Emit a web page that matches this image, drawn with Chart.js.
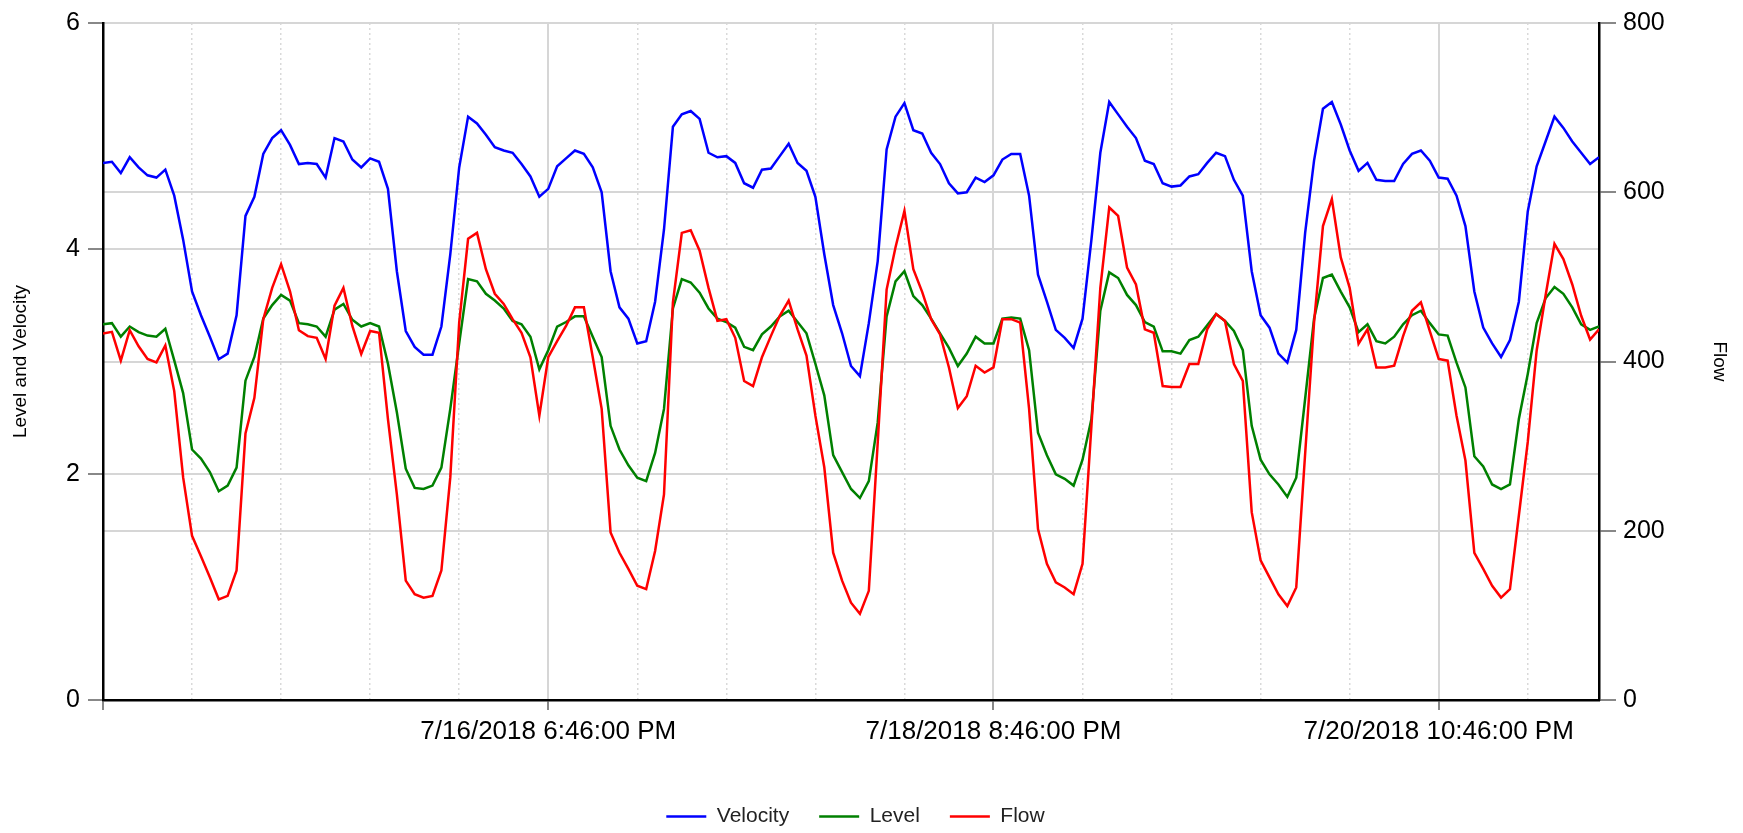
<!DOCTYPE html>
<html>
<head>
<meta charset="utf-8">
<script src="https://cdn.jsdelivr.net/npm/chart.js@4"></script>
<style>
  html, body { margin: 0; padding: 0; background: #fff; }
  #wrap { width: 1743px; height: 833px; }
</style>
</head>
<body>
<div id="wrap"><canvas id="chart"></canvas></div>
<script>
// Hourly readings starting 7/14/2018 4:46:00 PM (hour 0) through hour 168.
const startTime = new Date(2018, 6, 14, 16, 46, 0);

const hours = [
  0, 1, 2, 3, 4, 5, 6, 7, 8, 9, 10, 11, 12, 13, 14, 15, 16, 17, 18, 19,
  20, 21, 22, 23, 24, 25, 26, 27, 28, 29, 30, 31, 32, 33, 34, 35, 36, 37, 38, 39,
  40, 41, 42, 43, 44, 45, 46, 47, 48, 49, 50, 51, 52, 53, 54, 55, 56, 57, 58, 59,
  60, 61, 62, 63, 64, 65, 66, 67, 68, 69, 70, 71, 72, 73, 74, 75, 76, 77, 78, 79,
  80, 81, 82, 83, 84, 85, 86, 87, 88, 89, 90, 91, 92, 93, 94, 95, 96, 97, 98, 99,
  100, 101, 102, 103, 104, 105, 106, 107, 108, 109, 110, 111, 112, 113, 114, 115, 116, 117, 118, 119,
  120, 121, 122, 123, 124, 125, 126, 127, 128, 129, 130, 131, 132, 133, 134, 135, 136, 137, 138, 139,
  140, 141, 142, 143, 144, 145, 146, 147, 148, 149, 150, 151, 152, 153, 154, 155, 156, 157, 158, 159,
  160, 161, 162, 163, 164, 165, 166, 167, 168
];

const velocity = [
  4.76, 4.77, 4.67, 4.81, 4.72, 4.65, 4.63, 4.70, 4.47, 4.08,
  3.62, 3.41, 3.22, 3.02, 3.07, 3.41, 4.29, 4.46, 4.84, 4.98,
  5.05, 4.92, 4.75, 4.76, 4.75, 4.63, 4.98, 4.95, 4.79, 4.72,
  4.80, 4.77, 4.53, 3.80, 3.27, 3.13, 3.06, 3.06, 3.31, 3.95,
  4.72, 5.17, 5.11, 5.01, 4.90, 4.87, 4.85, 4.75, 4.64, 4.46,
  4.53, 4.73, 4.80, 4.87, 4.84, 4.72, 4.50, 3.80, 3.48, 3.38,
  3.16, 3.18, 3.53, 4.17, 5.08, 5.19, 5.22, 5.15, 4.85, 4.81,
  4.82, 4.76, 4.58, 4.54, 4.70, 4.71, 4.82, 4.93, 4.76, 4.69,
  4.46, 3.95, 3.50, 3.25, 2.96, 2.87, 3.34, 3.89, 4.88, 5.17,
  5.29, 5.05, 5.02, 4.85, 4.75, 4.58, 4.49, 4.50, 4.63, 4.59,
  4.65, 4.79, 4.84, 4.84, 4.47, 3.77, 3.53, 3.28, 3.21, 3.12,
  3.38, 4.08, 4.85, 5.30, 5.19, 5.08, 4.98, 4.78, 4.75, 4.58,
  4.55, 4.56, 4.64, 4.66, 4.76, 4.85, 4.82, 4.61, 4.47, 3.80,
  3.41, 3.30, 3.07, 2.99, 3.28, 4.14, 4.78, 5.24, 5.30, 5.10,
  4.87, 4.69, 4.76, 4.61, 4.60, 4.60, 4.75, 4.84, 4.87, 4.78,
  4.63, 4.62, 4.47, 4.20, 3.62, 3.30, 3.16, 3.04, 3.19, 3.53,
  4.33, 4.73, 4.95, 5.17, 5.07, 4.95, 4.85, 4.75, 4.81
];

const level = [
  3.33, 3.34, 3.22, 3.31, 3.26, 3.23, 3.22, 3.29, 3.01, 2.72,
  2.22, 2.14, 2.02, 1.85, 1.90, 2.06, 2.83, 3.04, 3.38, 3.50,
  3.59, 3.54, 3.34, 3.33, 3.31, 3.22, 3.46, 3.51, 3.37, 3.31,
  3.34, 3.31, 2.98, 2.55, 2.05, 1.88, 1.87, 1.90, 2.06, 2.58,
  3.16, 3.73, 3.71, 3.60, 3.54, 3.47, 3.36, 3.33, 3.22, 2.93,
  3.10, 3.31, 3.35, 3.40, 3.40, 3.22, 3.04, 2.43, 2.22, 2.08,
  1.97, 1.94, 2.19, 2.58, 3.47, 3.73, 3.70, 3.61, 3.47, 3.38,
  3.35, 3.30, 3.13, 3.10, 3.24, 3.31, 3.40, 3.45, 3.35, 3.25,
  2.98, 2.70, 2.17, 2.02, 1.87, 1.79, 1.94, 2.46, 3.40, 3.71,
  3.80, 3.58, 3.50, 3.38, 3.25, 3.12, 2.96, 3.07, 3.22, 3.16,
  3.16, 3.38, 3.39, 3.38, 3.10, 2.37, 2.17, 2.00, 1.96, 1.90,
  2.13, 2.49, 3.45, 3.79, 3.74, 3.59, 3.50, 3.35, 3.31, 3.09,
  3.09, 3.07, 3.19, 3.22, 3.32, 3.42, 3.36, 3.27, 3.10, 2.43,
  2.13, 2.00, 1.91, 1.80, 1.97, 2.67, 3.38, 3.74, 3.77, 3.62,
  3.48, 3.26, 3.33, 3.18, 3.16, 3.22, 3.33, 3.41, 3.45, 3.34,
  3.24, 3.23, 2.99, 2.77, 2.16, 2.07, 1.91, 1.87, 1.91, 2.49,
  2.89, 3.34, 3.56, 3.66, 3.60, 3.48, 3.33, 3.28, 3.31
];

const flow = [
  433, 435, 401, 437, 418, 403, 399, 419, 365, 263,
  194, 170, 145, 119, 123, 153, 315, 357, 450, 487,
  515, 483, 437, 430, 428, 403, 466, 487, 442, 409,
  436, 434, 332, 243, 141, 125, 121, 123, 153, 263,
  446, 545, 552, 509, 480, 468, 450, 434, 405, 336,
  405, 424, 442, 464, 464, 405, 344, 198, 174, 155,
  135, 131, 176, 243, 470, 552, 555, 531, 487, 448,
  450, 428, 377, 371, 405, 430, 454, 472, 438, 407,
  336, 275, 174, 141, 115, 102, 129, 304, 485, 535,
  578, 509, 482, 450, 432, 393, 345, 359, 395, 387,
  393, 450, 450, 446, 344, 202, 161, 139, 133, 125,
  161, 324, 487, 582, 572, 511, 491, 438, 434, 371,
  370, 370, 397, 397, 438, 456, 448, 397, 377, 222,
  165, 145, 125, 111, 133, 291, 446, 560, 592, 523,
  487, 421, 438, 393, 393, 395, 430, 460, 470, 436,
  403, 401, 336, 283, 174, 155, 135, 121, 131, 218,
  305, 413, 478, 539, 521, 491, 454, 426, 438
];

const FONT = 'Liberation Sans, Arial, sans-serif';
const GRID = '#d6d6d6';

// Formato M/D/YYYY h:mm:ss AM/PM, como no gráfico original.
function formatHour(h) {
  const d = new Date(startTime.getTime() + h * 3600000);
  const hr = d.getHours();
  const h12 = hr % 12 === 0 ? 12 : hr % 12;
  const mm = String(d.getMinutes()).padStart(2, '0');
  const ss = String(d.getSeconds()).padStart(2, '0');
  return (d.getMonth() + 1) + '/' + d.getDate() + '/' + d.getFullYear() + ' ' +
    h12 + ':' + mm + ':' + ss + ' ' + (hr < 12 ? 'AM' : 'PM');
}

const isMajor = (ctx) => ctx.tick && ctx.tick.value % 50 === 0;

const ctx = document.getElementById('chart').getContext('2d');
new Chart(ctx, {
  type: 'line',
  data: {
    labels: hours,
    datasets: [
      { label: 'Velocity', data: velocity, yAxisID: 'y', borderColor: '#0000ff', backgroundColor: '#0000ff', order: 2 },
      { label: 'Level', data: level, yAxisID: 'y', borderColor: '#008000', backgroundColor: '#008000', order: 1 },
      { label: 'Flow', data: flow, yAxisID: 'y1', borderColor: '#ff0000', backgroundColor: '#ff0000', order: 0 }
    ]
  },
  options: {
    responsive: true,
    maintainAspectRatio: false,
    animation: false,
    datasets: {
      line: { borderWidth: 2.5, pointRadius: 0, tension: 0, pointStyle: 'line' }
    },
    // right padding keeps the legend centred under the plot area
    layout: { padding: { top: 20, left: 0, right: 32, bottom: -4 } },
    plugins: {
      tooltip: { enabled: false },
      legend: {
        position: 'bottom',
        labels: {
          font: { family: FONT, size: 21 },
          color: '#222',
          usePointStyle: true,
          pointStyle: 'line',
          pointStyleWidth: 40,
          padding: 30,
          sort: (a, b) => a.datasetIndex - b.datasetIndex
        }
      }
    },
    scales: {
      x: {
        type: 'linear',
        min: 0,
        max: 168,
        afterFit: (scale) => { scale.height = 76; },
        ticks: {
          stepSize: 10,
          autoSkip: false,
          includeBounds: false,
          maxRotation: 0,
          padding: 6,
          color: '#000',
          font: { family: FONT, size: 26 },
          callback: (v) => (v > 0 && v % 50 === 0) ? formatHour(v) : ''
        },
        grid: {
          color: (c) => isMajor(c) ? GRID : '#d9d9d9',
          lineWidth: (c) => isMajor(c) ? 2 : 1.5,
          tickLength: 10,
          tickColor: (c) => isMajor(c) ? '#888' : 'rgba(0,0,0,0)'
        },
        border: {
          display: true,
          color: '#000',
          width: 2.5,
          dash: (c) => isMajor(c) ? [] : [2, 3]
        }
      },
      y: {
        position: 'left',
        min: 0,
        max: 6,
        afterFit: (scale) => { scale.width = 103; },
        ticks: { stepSize: 2, padding: 8, color: '#000', font: { family: FONT, size: 25 } },
        grid: { color: GRID, lineWidth: 2, tickLength: 15, tickColor: '#888' },
        border: { display: true, color: '#000', width: 2.5 },
        title: {
          display: true,
          text: 'Level and Velocity',
          color: '#000',
          font: { family: FONT, size: 19 },
          padding: { top: 9, bottom: 0 }
        }
      },
      y1: {
        position: 'right',
        min: 0,
        max: 800,
        afterFit: (scale) => { scale.width = 112; },
        ticks: { stepSize: 200, padding: 7, color: '#000', font: { family: FONT, size: 25 } },
        grid: { color: GRID, lineWidth: 2, tickLength: 17, tickColor: '#888' },
        border: { display: true, color: '#000', width: 2.5 },
        title: {
          display: true,
          text: 'Flow',
          color: '#000',
          font: { family: FONT, size: 19 },
          padding: { top: -20, bottom: 0 }
        }
      }
    }
  }
});
</script>
</body>
</html>
